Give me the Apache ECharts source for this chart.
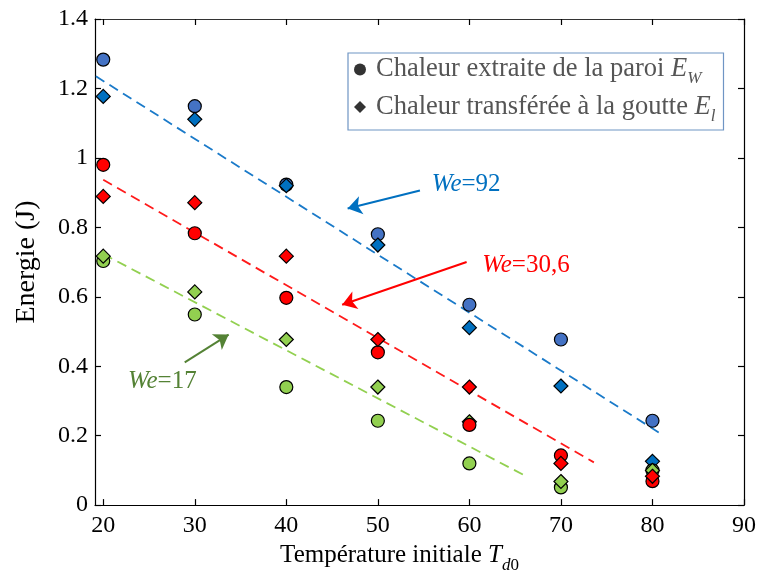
<!DOCTYPE html>
<html>
<head>
<meta charset="utf-8">
<script src="https://cdn.jsdelivr.net/npm/echarts@6/dist/echarts.min.js"></script>
<style>html,body{margin:0;padding:0;background:#fff;}#c{width:760px;height:579px;}</style>
</head>
<body>
<div id="c"></div>
<script>
// ---- data ----
const temps = [20, 30, 40, 50, 60, 70, 80];
const ewWe92  = [1.283, 1.149, 0.923, 0.780, 0.577, 0.477, 0.243];
const elWe92  = [1.177, 1.111, 0.920, 0.749, 0.511, 0.343, 0.126];
const ewWe306 = [0.980, 0.783, 0.597, 0.440, 0.231, 0.143, 0.069];
const elWe306 = [0.889, 0.871, 0.717, 0.477, 0.340, 0.120, 0.083];
const ewWe17  = [0.703, 0.549, 0.340, 0.243, 0.120, 0.051, 0.100];
const elWe17  = [0.717, 0.614, 0.477, 0.340, 0.240, 0.068, 0.100];
// fitted trend lines (end points)
const fitWe92X  = [19.2, 80.7], fitWe92Y  = [1.235, 0.209];
const fitWe306X = [20.0, 73.6], fitWe306Y = [0.937, 0.123];
const fitWe17X  = [20.0, 66.2], fitWe17Y  = [0.723, 0.083];
const xTicks = [20, 30, 40, 50, 60, 70, 80, 90];
// annotation anchors (data coords)
const arrow92  = [[54.6, 0.906], [46.7, 0.854]];
const arrow306 = [[59.7, 0.700], [46.1, 0.577]];
const arrow17  = [[28.9, 0.411], [33.7, 0.491]];
const label92  = [55.9, 0.923];
const label306 = [61.4, 0.689];
const label17  = [22.7, 0.357];

const FONT = '"Liberation Serif", "Times New Roman", serif';
const zip = (xs, ys) => xs.map((x, i) => [x, ys[i]]);

const chart = echarts.init(document.getElementById('c'), null, {renderer: 'canvas'});

function scatter(name, data, symbol, color, z) {
  return {
    type: 'scatter', name: name, data: zip(temps, data), symbol: symbol,
    symbolSize: symbol === 'circle' ? 13 : 14,
    itemStyle: {color: color, borderColor: '#000', borderWidth: 1.2, opacity: 1},
    z: z, emphasis: {disabled: true}, xAxisIndex: 0, yAxisIndex: 0
  };
}
function fit(xs, ys, color) {
  return {
    type: 'line', data: zip(xs, ys), symbol: 'none', silent: true,
    lineStyle: {color: color, width: 1.8, type: [10, 6]}, z: 1
  };
}
function weLabel(coord, num, color) {
  return {
    coord: coord, value: num,
    label: {
      show: true, position: 'right', distance: 0,
      formatter: '{i|We}{n|=' + num + '}',
      rich: {
        i: {fontFamily: FONT, fontSize: 25, fontStyle: 'italic', color: color},
        n: {fontFamily: FONT, fontSize: 25, color: color}
      }
    }
  };
}
function arrow(pts, color) {
  return [
    {coord: pts[0], symbol: 'none', lineStyle: {color: color, width: 2, type: 'solid'}},
    {coord: pts[1], symbol: 'arrow', symbolSize: 14, itemStyle: {color: color}}
  ];
}

const option = {
  backgroundColor: '#fff',
  animation: false,
  grid: {left: 95, right: 16, top: 19, bottom: 70, containLabel: false},
  xAxis: [{
    type: 'value', min: 19.1, max: 90, position: 'bottom',
    name: '{t|Température initiale }{i|T}{s|d}{u|0}',
    nameLocation: 'middle', nameGap: 34,
    nameTextStyle: {
      padding: [0, 40, 0, 0],
      rich: {
        t: {fontFamily: FONT, fontSize: 25, color: '#000'},
        i: {fontFamily: FONT, fontSize: 25, fontStyle: 'italic', color: '#000'},
        s: {fontFamily: FONT, fontSize: 17, fontStyle: 'italic', color: '#000', verticalAlign: 'bottom', lineHeight: 17, padding: [0, 0, -6, 0]},
        u: {fontFamily: FONT, fontSize: 17, color: '#000', verticalAlign: 'bottom', lineHeight: 17, padding: [0, 0, -6, 0]}
      }
    },
    axisLine: {show: true, onZero: false, lineStyle: {color: '#000', width: 1.2}},
    axisTick: {show: true, inside: true, length: 6, customValues: xTicks, lineStyle: {color: '#000', width: 1.2}},
    axisLabel: {show: true, customValues: xTicks, margin: 9, fontFamily: FONT, fontSize: 24, color: '#000'},
    splitLine: {show: false}
  }, {
    type: 'value', min: 19.1, max: 90, position: 'top',
    axisLine: {show: true, onZero: false, lineStyle: {color: '#333', width: 1.2}},
    axisTick: {show: true, inside: true, length: 6, customValues: xTicks, lineStyle: {color: '#000', width: 1.2}},
    axisLabel: {show: false},
    splitLine: {show: false}
  }],
  yAxis: [{
    type: 'value', min: 0, max: 1.4, interval: 0.2, position: 'left',
    name: 'Energie (J)', nameLocation: 'middle', nameGap: 54, nameRotate: 90,
    nameTextStyle: {fontFamily: FONT, fontSize: 28, color: '#000'},
    axisLine: {show: true, onZero: false, lineStyle: {color: '#000', width: 1.2}},
    axisTick: {show: true, inside: true, length: 6, lineStyle: {color: '#000', width: 1.2}},
    axisLabel: {show: true, margin: 7, fontFamily: FONT, fontSize: 24, color: '#000',
      formatter: v => String(Math.round(v * 10) / 10)},
    splitLine: {show: false}
  }, {
    type: 'value', min: 0, max: 1.4, interval: 0.2, position: 'right',
    axisLine: {show: true, onZero: false, lineStyle: {color: '#000', width: 1.2}},
    axisTick: {show: true, inside: true, length: 6, lineStyle: {color: '#000', width: 1.2}},
    axisLabel: {show: false},
    splitLine: {show: false}
  }],
  legend: {
    show: true, orient: 'vertical', left: 348, top: 53,
    padding: [3, 8, 5, 6], itemGap: 6, itemWidth: 12, itemHeight: 12,
    borderColor: '#6f95c4', borderWidth: 1.2, backgroundColor: '#fff',
    selectedMode: false,
    data: [{name: 'EW', icon: 'circle'}, {name: 'El', icon: 'diamond'}],
    formatter: n => n === 'EW'
      ? '{t|Chaleur extraite de la paroi }{i|E}{s|W}'
      : '{t|Chaleur transférée à la goutte }{i|E}{s|l}',
    textStyle: {
      padding: [0, 0, 0, 5],
      rich: {
        t: {fontFamily: FONT, fontSize: 26.5, color: '#555', lineHeight: 28},
        i: {fontFamily: FONT, fontSize: 26.5, fontStyle: 'italic', color: '#555', lineHeight: 28},
        s: {fontFamily: FONT, fontSize: 17, fontStyle: 'italic', color: '#555', verticalAlign: 'bottom', lineHeight: 16, padding: [0, 0, -4, 0]}
      }
    }
  },
  series: [
    fit(fitWe92X, fitWe92Y, '#1a7ac9'),
    fit(fitWe306X, fitWe306Y, '#ff1a1a'),
    fit(fitWe17X, fitWe17Y, '#92d050'),
    {type: 'scatter', name: 'EW', data: [], symbol: 'circle', itemStyle: {color: '#000'}},
    {type: 'scatter', name: 'El', data: [], symbol: 'diamond', itemStyle: {color: '#000'}},
    scatter('ewWe92', ewWe92, 'circle', '#4472c4', 3),
    scatter('elWe92', elWe92, 'diamond', '#0070c0', 4),
    scatter('ewWe17', ewWe17, 'circle', '#92d050', 5),
    scatter('elWe17', elWe17, 'diamond', '#92d050', 6),
    scatter('ewWe306', ewWe306, 'circle', '#ff0000', 7),
    scatter('elWe306', elWe306, 'diamond', '#ff0000', 8),
    {
      type: 'scatter', name: 'annot', data: [], silent: true, z: 9,
      markLine: {
        silent: true, animation: false, symbol: ['none', 'arrow'], symbolSize: 14,
        label: {show: false},
        data: [
          arrow(arrow92, '#0070c0'),
          arrow(arrow306, '#ff0000'),
          arrow(arrow17, '#548235')
        ]
      },
      markPoint: {
        silent: true, animation: false, symbol: 'circle', symbolSize: 0,
        data: [
          weLabel(label92, '92', '#0070c0'),
          weLabel(label306, '30,6', '#ff0000'),
          weLabel(label17, '17', '#548235')
        ]
      }
    }
  ]
};
chart.setOption(option);
</script>
</body>
</html>
